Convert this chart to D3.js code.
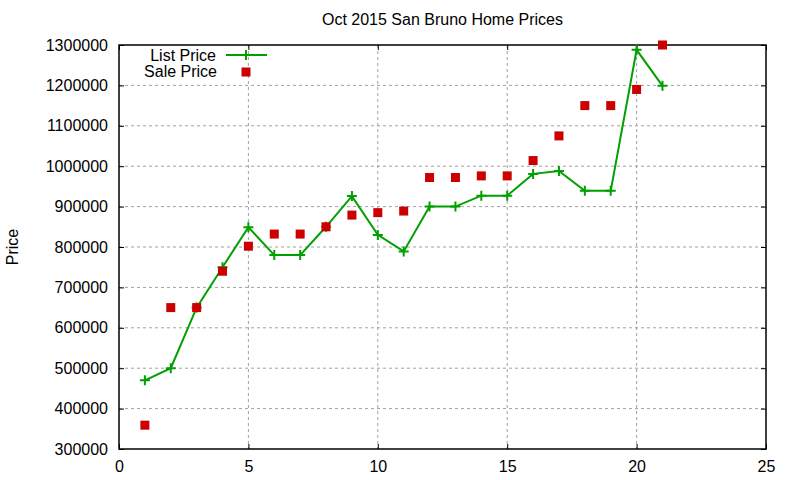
<!DOCTYPE html>
<html>
<head>
<meta charset="utf-8">
<script src="https://cdn.jsdelivr.net/npm/d3@7"></script>
<style>
  body { margin: 0; background: #fff; }
  text { font-family: "Liberation Sans", Arial, sans-serif; fill: #000; }
</style>
</head>
<body>
<div id="chart"></div>
<script>
// Dados
const homes = [1, 2, 3, 4, 5, 6, 7, 8, 9, 10, 11, 12, 13, 14, 15, 16, 17, 18, 19, 20, 21];
const listPrice = [470000, 500000, 650000, 750000, 849000, 780000, 780000, 850000, 926000, 830000, 789000,
  900000, 900000, 927000, 927000, 981000, 988000, 939000, 939000, 1288000, 1199000];
const salePrice = [359000, 650000, 650000, 740000, 802000, 832000, 832000, 850000, 879000, 885000, 889000,
  972000, 972000, 976000, 976000, 1014000, 1075000, 1150000, 1150000, 1190000, 1300000];
const xTicks = [0, 5, 10, 15, 20, 25];
const yTicks = [300000, 400000, 500000, 600000, 700000, 800000, 900000, 1000000, 1100000, 1200000, 1300000];

const margin = { top: 45, right: 34, bottom: 31, left: 119 };
const width = 800 - margin.left - margin.right;
const height = 480 - margin.top - margin.bottom;

const svg = d3.select("#chart").append("svg")
  .attr("width", 800)
  .attr("height", 480)
  .append("g")
  .attr("transform", `translate(${margin.left},${margin.top})`);

const x = d3.scaleLinear().domain([0, 25]).range([0, width]);
const y = d3.scaleLinear().domain([300000, 1300000]).range([height, 0]);

// Grade
svg.append("g").selectAll("line")
  .data(xTicks.slice(1, -1))
  .enter().append("line")
  .attr("x1", d => x(d)).attr("x2", d => x(d))
  .attr("y1", 0).attr("y2", height)
  .attr("stroke", "#a0a0a0").attr("stroke-dasharray", "3,3");
svg.append("g").selectAll("line")
  .data(yTicks.slice(1, -1))
  .enter().append("line")
  .attr("x1", 0).attr("x2", width)
  .attr("y1", d => y(d)).attr("y2", d => y(d))
  .attr("stroke", "#a0a0a0").attr("stroke-dasharray", "3,3");

// Eixos (ticks para dentro, espelhados)
const xAxis = d3.axisBottom(x).tickValues(xTicks).tickSizeInner(-5).tickSizeOuter(0).tickPadding(12);
const yAxis = d3.axisLeft(y).tickValues(yTicks).tickSizeInner(-5).tickSizeOuter(0).tickPadding(11).tickFormat(d3.format("d"));

const gx = svg.append("g").attr("transform", `translate(0,${height})`).call(xAxis);
const gy = svg.append("g").call(yAxis);
svg.append("g").call(d3.axisTop(x).tickValues(xTicks).tickSizeInner(-5).tickSizeOuter(0).tickFormat(""));
svg.append("g").attr("transform", `translate(${width},0)`)
  .call(d3.axisRight(y).tickValues(yTicks).tickSizeInner(-5).tickSizeOuter(0).tickFormat(""));

[gx, gy].forEach(g => g.selectAll("text").style("font-size", "16px"));
svg.selectAll(".domain").remove();
svg.selectAll(".tick line").attr("stroke", "#000");

svg.append("rect")
  .attr("width", width).attr("height", height)
  .attr("fill", "none").attr("stroke", "#000").attr("stroke-width", 1.5);

// Linha List Price
const line = d3.line().x((d, i) => x(homes[i])).y(d => y(d));
svg.append("path")
  .datum(listPrice)
  .attr("fill", "none")
  .attr("stroke", "#00a000")
  .attr("stroke-width", 2)
  .attr("d", line);

const plus = d3.symbol().type(d3.symbolCross);
function plusPath(s) {
  return `M${-s},0H${s}M0,${-s}V${s}`;
}
svg.selectAll(".lp")
  .data(listPrice)
  .enter().append("path")
  .attr("class", "lp")
  .attr("transform", (d, i) => `translate(${x(homes[i])},${y(d)})`)
  .attr("d", plusPath(5))
  .attr("stroke", "#00a000")
  .attr("stroke-width", 2);

// Pontos Sale Price
svg.selectAll(".sp")
  .data(salePrice)
  .enter().append("rect")
  .attr("class", "sp")
  .attr("x", (d, i) => x(homes[i]) - 4.5)
  .attr("y", d => y(d) - 4.5)
  .attr("width", 9).attr("height", 9)
  .attr("fill", "#cc0000");

// Legenda
const legend = svg.append("g").attr("transform", "translate(0,0)");
legend.append("text")
  .attr("x", 97).attr("y", 16)
  .attr("text-anchor", "end")
  .style("font-size", "16px")
  .text("List Price");
legend.append("line")
  .attr("x1", 107).attr("x2", 148).attr("y1", 10).attr("y2", 10)
  .attr("stroke", "#00a000").attr("stroke-width", 2);
legend.append("path")
  .attr("transform", "translate(127,10)")
  .attr("d", plusPath(5))
  .attr("stroke", "#00a000").attr("stroke-width", 2);
legend.append("text")
  .attr("x", 98).attr("y", 32)
  .attr("text-anchor", "end")
  .style("font-size", "16px")
  .text("Sale Price");
legend.append("rect")
  .attr("x", 122.5).attr("y", 22.5).attr("width", 9).attr("height", 9)
  .attr("fill", "#cc0000");

// Título
svg.append("text")
  .attr("x", width / 2)
  .attr("y", -20)
  .attr("text-anchor", "middle")
  .style("font-size", "16px")
  .text("Oct 2015 San Bruno Home Prices");

// Label eixo Y
svg.append("text")
  .attr("transform", "rotate(-90)")
  .attr("x", -height / 2)
  .attr("y", -margin.left + 18)
  .attr("text-anchor", "middle")
  .style("font-size", "16px")
  .text("Price");
</script>
</body>
</html>
